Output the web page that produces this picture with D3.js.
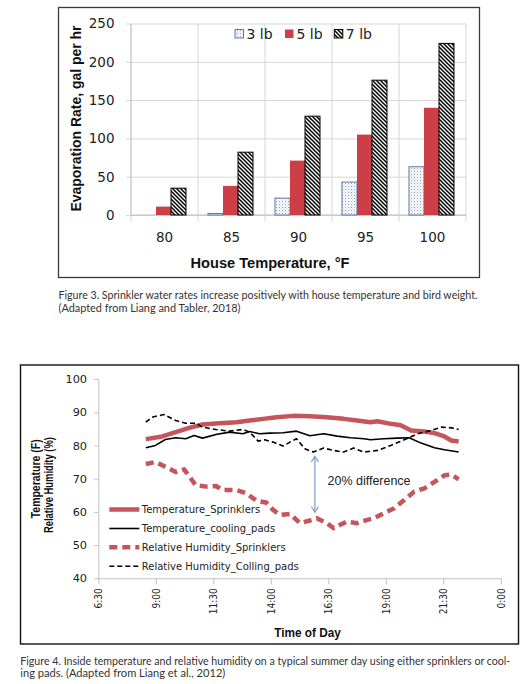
<!DOCTYPE html>
<html><head><meta charset="utf-8">
<script src="https://cdn.jsdelivr.net/npm/d3@7/dist/d3.min.js"></script>
<style>body{margin:0;background:#fff} svg{display:block}</style>
</head><body>
<svg id="c" width="529" height="684"></svg>
<script>
// ---------- Figure 3 data ----------
const categories = ["80","85","90","95","100"];
const seriesNames = ["3 lb","5 lb","7 lb"];
const values3lb = [0, 2, 22, 43, 63];
const values5lb = [11, 38, 71, 105, 140];
const values7lb = [35, 82, 129, 176, 224];
const yTicksTop = [0, 50, 100, 150, 200, 250];

// ---------- Figure 4 data ----------
const timeTicks = ["6:30","9:00","11:30","14:00","16:30","19:00","21:30","0:00"];
const yTicksBottom = [40, 50, 60, 70, 80, 90, 100];
const seriesLabels = ["Temperature_Sprinklers","Temperature_cooling_pads","Relative Humidity_Sprinklers","Relative Humidity_Colling_pads"];

const tempSprTime = ["8:34","9:17","9:52","10:27","11:02","11:46","12:30","13:05","13:40","14:15","14:59","15:42","16:26","17:10","17:45","18:20","18:38","19:13","19:39","20:06","20:41","21:07","21:33","21:51","22:10"];
const tempSprVal  = [81.9,82.7,84.0,85.3,86.3,86.7,87.0,87.5,88.0,88.5,88.9,88.8,88.5,88.0,87.5,87.0,87.3,86.5,86.1,84.5,84.2,83.7,82.7,81.5,81.2];

const tempPadTime = ["8:34","8:59","9:25","9:52","10:18","10:40","11:02","11:37","12:12","12:47","13:05","13:31","13:57","14:32","15:07","15:42","16:18","16:53","17:28","18:03","18:20","18:55","19:30","20:01","20:32","21:07","21:33","22:10"];
const tempPadVal  = [79.3,80.0,81.8,82.3,82.0,83.0,82.2,83.3,84.0,83.5,84.2,83.5,83.7,83.8,84.3,82.9,83.5,82.8,82.3,82.0,81.7,82.0,82.2,82.3,80.7,79.3,78.7,78.0];

const rhSprTime = ["8:34","8:59","9:25","9:52","10:14","10:44","11:11","11:37","11:54","12:30","12:56","13:22","13:48","14:06","14:24","14:50","15:16","15:42","16:00","16:26","16:44","17:19","17:45","18:12","18:29","18:55","19:22","19:48","20:14","20:41","21:07","21:33","21:51","22:10"];
const rhSprVal  = [74.4,75.0,73.6,72.0,72.8,68.0,67.6,67.8,66.6,66.6,65.6,63.4,62.8,60.6,59.1,59.4,56.6,57.4,58.1,56.6,55.1,57.1,56.6,57.6,58.1,59.6,61.1,63.6,66.1,67.1,69.0,71.0,71.2,69.8];

const rhPadTime = ["8:34","8:50","9:21","9:52","10:18","10:44","11:02","11:37","12:12","12:47","13:05","13:27","13:44","14:06","14:32","14:50","15:07","15:29","15:51","16:18","16:44","17:10","17:36","18:03","18:38","19:13","19:48","20:23","20:58","21:25","21:51","22:10"];
const rhPadVal  = [87.0,88.5,89.3,87.5,86.7,86.7,85.5,84.8,84.3,84.8,84.0,81.3,81.7,81.0,79.8,81.0,82.0,79.0,78.0,79.2,78.5,78.0,79.2,78.0,78.5,80.0,81.7,83.5,84.5,85.5,85.3,84.8];

const annotation = {time: "15:55", from: 76.7, to: 59.9, label: "20% difference", labelTime: "16:28", labelValue: 69.3};

const captions3 = ["Figure 3. Sprinkler water rates increase positively with house temperature and bird weight.", "(Adapted from Liang and Tabler, 2018)"];
const captions4 = ["Figure 4. Inside temperature and relative humidity on a typical summer day using either sprinklers or cool-", "ing pads. (Adapted from Liang et al., 2012)"];

// ---------- helpers ----------
function toMin(s){ const [h,m] = s.split(":").map(Number); return h*60+m; }
const svg = d3.select("#c");
const defs = svg.append("defs");

// patterns
const pDots = defs.append("pattern").attr("id","dots").attr("patternUnits","userSpaceOnUse").attr("width",3).attr("height",3);
pDots.append("rect").attr("width",3).attr("height",3).attr("fill","#fff");
pDots.append("rect").attr("x",0).attr("y",0).attr("width",1).attr("height",1).attr("fill","#8b9dbb");
pDots.append("rect").attr("x",1.5).attr("y",1.5).attr("width",1).attr("height",1).attr("fill","#a9b8cf");
const pStripe = defs.append("pattern").attr("id","stripes").attr("patternUnits","userSpaceOnUse").attr("width",4).attr("height",4);
pStripe.append("rect").attr("width",4).attr("height",4).attr("fill","#fff");
pStripe.append("path").attr("d","M-1,-1 L5,5 M-1,3 L1,5 M3,-1 L5,1").attr("stroke","#000").attr("stroke-width",1.5);

const fills = {"3 lb":"url(#dots)","5 lb":"#cd3f46","7 lb":"url(#stripes)"};
const strokes = {"3 lb":"#5a78aa","5 lb":"none","7 lb":"#000"};

// ================= FIGURE 3 =================
const g3 = svg.append("g");
g3.append("rect").attr("x",58.5).attr("y",7.5).attr("width",421).attr("height",270)
  .attr("fill","#fff").attr("stroke","#3a3a3a").attr("stroke-width",1.3);

const x0 = d3.scaleBand().domain(categories).range([131,466]);
const x1 = d3.scaleBand().domain(seriesNames).range([0,45]);
const yT = d3.scaleLinear().domain([0,250]).range([215,23.5]);

const yAx = g3.append("g").attr("transform","translate(466,0)")
  .call(d3.axisLeft(yT).tickValues(yTicksTop).tickSizeInner(340).tickSizeOuter(0).tickPadding(11.5));
yAx.select(".domain").remove();
yAx.selectAll("line").attr("stroke","#d6d6d6");
yAx.selectAll("text").attr("font-family","DejaVu Sans").attr("font-size",13.5).attr("fill","#222");

const bounds = categories.map(c=>x0(c)).concat([x0.range()[1]]);
g3.selectAll(".vg").data(bounds).join("line")
  .attr("x1",d=>d).attr("x2",d=>d).attr("y1",yT(250)).attr("y2",yT(0)+6.5)
  .attr("stroke","#d6d6d6");
g3.append("line").attr("x1",x0.range()[0]).attr("x2",x0.range()[0]).attr("y1",yT(250)).attr("y2",yT(0)).attr("stroke","#c4c4c4");
g3.append("line").attr("x1",x0.range()[0]).attr("x2",x0.range()[1]).attr("y1",yT(0)).attr("y2",yT(0)).attr("stroke","#bdbdbd");

const seriesVals = {"3 lb":values3lb,"5 lb":values5lb,"7 lb":values7lb};
const barData = [];
categories.forEach((c,i)=>seriesNames.forEach(s=>barData.push({c,s,v:seriesVals[s][i]})));
g3.selectAll(".bar").data(barData.filter(d=>d.v>0)).join("rect")
  .attr("x",d=>x0(d.c)+(x0.bandwidth()-45)/2 + x1(d.s) - 1)
  .attr("width",x1.bandwidth())
  .attr("y",d=>yT(d.v)).attr("height",d=>yT(0)-yT(d.v))
  .attr("fill",d=>fills[d.s]).attr("stroke",d=>strokes[d.s]).attr("stroke-width",1);

const xAx = g3.append("g").attr("transform",`translate(0,${yT(0)})`)
  .call(d3.axisBottom(x0).tickSize(0).tickPadding(17.4));
xAx.select(".domain").remove();
xAx.selectAll("text").attr("font-family","DejaVu Sans").attr("font-size",13.5).attr("fill","#222");

const legX = {"3 lb":235,"5 lb":285,"7 lb":334.3};
seriesNames.forEach(s=>{
  g3.append("rect").attr("x",legX[s]).attr("y",29.5).attr("width",8.5).attr("height",8.5)
    .attr("fill",fills[s]).attr("stroke",strokes[s]).attr("stroke-width",1);
  g3.append("text").attr("x",legX[s]+11.5).attr("y",39).text(s)
    .attr("font-family","DejaVu Sans").attr("font-size",14).attr("fill","#222");
});

g3.append("text").attr("transform","translate(80.5,118.5) rotate(-90)").attr("text-anchor","middle")
  .attr("font-family","Liberation Sans, Arial").attr("font-weight","bold").attr("font-size",14)
  .attr("textLength",186).attr("lengthAdjust","spacingAndGlyphs").attr("fill","#111")
  .text("Evaporation Rate, gal per hr");
g3.append("text").attr("x",270).attr("y",268).attr("text-anchor","middle")
  .attr("font-family","Liberation Sans, Arial").attr("font-weight","bold").attr("font-size",14.5)
  .attr("textLength",159).attr("lengthAdjust","spacingAndGlyphs").attr("fill","#111")
  .text("House Temperature, °F");

const capLen3 = [419,182];
captions3.forEach((t,i)=>svg.append("text").attr("x",58.5).attr("y",299+i*13.3).text(t)
  .attr("font-family","Lato, Noto Sans").attr("font-size",10.5).attr("fill","#333")
  .attr("textLength",capLen3[i]).attr("lengthAdjust","spacingAndGlyphs"));

// ================= FIGURE 4 =================
const g4 = svg.append("g");
g4.append("rect").attr("x",20.5).attr("y",365).attr("width",498).attr("height",279)
  .attr("fill","#fff").attr("stroke","#111").attr("stroke-width",1.4);

const tMin = toMin(timeTicks[0]), tMax = 24*60;
const xB = d3.scaleLinear().domain([tMin,tMax]).range([98.3,500.8]);
const yB = d3.scaleLinear().domain([40,100]).range([578.3,379]);
const tickMins = timeTicks.map(s=>{ const m = toMin(s); return m===0?1440:m; });

const yAxB = g4.append("g").attr("transform",`translate(${xB(tMin)},0)`)
  .call(d3.axisLeft(yB).tickValues(yTicksBottom).tickSize(4).tickSizeOuter(0).tickPadding(7.3));
yAxB.select(".domain").attr("stroke","#c0c0c0");
yAxB.selectAll("line").attr("stroke","#c0c0c0");
yAxB.selectAll("text").attr("font-family","DejaVu Sans").attr("font-size",11.3).attr("fill","#222");

const xAxB = g4.append("g").attr("transform",`translate(0,${yB(40)})`)
  .call(d3.axisBottom(xB).tickValues(tickMins).tickFormat((d,i)=>timeTicks[i]).tickSize(6).tickSizeOuter(0));
xAxB.select(".domain").attr("stroke","#c0c0c0");
xAxB.selectAll("line").attr("stroke","#c0c0c0");
xAxB.selectAll("text").attr("transform","rotate(-90)").attr("text-anchor","end")
  .attr("x",-10).attr("y",0).attr("dy","0.36em")
  .attr("font-family","DejaVu Sans Condensed, DejaVu Sans").attr("font-size",10).attr("fill","#222");

const mk = (ts,vs)=>ts.map((t,i)=>({t:toMin(t), v:vs[i]}));
const line = d3.line().x(d=>xB(d.t)).y(d=>yB(d.v));
const RED = "#c4555a";
const styles = [
  {data: mk(tempSprTime,tempSprVal), stroke: RED, w: 4.5, dash: null},
  {data: mk(tempPadTime,tempPadVal), stroke: "#000", w: 1.6, dash: null},
  {data: mk(rhSprTime,rhSprVal), stroke: RED, w: 4.5, dash: "8,5"},
  {data: mk(rhPadTime,rhPadVal), stroke: "#000", w: 1.6, dash: "5,3"}
];
[2,0,3,1].forEach(i=>{
  const s = styles[i];
  g4.append("path").datum(s.data).attr("d",line).attr("fill","none")
    .attr("stroke",s.stroke).attr("stroke-width",s.w).attr("stroke-dasharray",s.dash)
    .attr("stroke-linejoin","round");
});

const ax = xB(toMin(annotation.time)), ay1 = yB(annotation.from), ay2 = yB(annotation.to);
const AC = "#7c9cc8";
g4.append("line").attr("x1",ax).attr("x2",ax).attr("y1",ay1).attr("y2",ay2).attr("stroke",AC).attr("stroke-width",1.2);
g4.append("path").attr("d",`M${ax-3.5},${ay1+5.5} L${ax},${ay1} L${ax+3.5},${ay1+5.5} M${ax-3.5},${ay2-5.5} L${ax},${ay2} L${ax+3.5},${ay2-5.5}`)
  .attr("fill","none").attr("stroke",AC).attr("stroke-width",1.2);
g4.append("text").attr("x",xB(toMin(annotation.labelTime))).attr("y",yB(annotation.labelValue)+4.3)
  .attr("font-family","Liberation Sans, Arial").attr("font-size",12.4).attr("fill","#222")
  .attr("textLength",83).attr("lengthAdjust","spacingAndGlyphs").text(annotation.label);

const legRows = [509.5, 528.5, 547.3, 566.3];
seriesLabels.forEach((lab,i)=>{
  const s = styles[i];
  g4.append("line").attr("x1",109.3).attr("x2",139.3).attr("y1",legRows[i]).attr("y2",legRows[i])
    .attr("stroke",s.stroke).attr("stroke-width",s.w).attr("stroke-dasharray",s.dash);
  g4.append("text").attr("x",141.8).attr("y",legRows[i]+3.6).text(lab)
    .attr("font-family","DejaVu Sans").attr("font-size",10).attr("fill","#222");
});

g4.append("text").attr("transform","translate(39.5,478.8) rotate(-90)").attr("text-anchor","middle")
  .attr("font-family","Liberation Sans Narrow, Liberation Sans, Arial").attr("font-weight","bold").attr("font-size",12.5).attr("fill","#111")
  .attr("textLength",79).attr("lengthAdjust","spacingAndGlyphs").text("Temperature (F)");
g4.append("text").attr("transform","translate(53.3,485.1) rotate(-90)").attr("text-anchor","middle")
  .attr("font-family","Liberation Sans Narrow, Liberation Sans, Arial").attr("font-weight","bold").attr("font-size",12.5).attr("fill","#111")
  .attr("textLength",96).attr("lengthAdjust","spacingAndGlyphs").text("Relative Humidity (%)");
g4.append("text").attr("x",307.5).attr("y",637).attr("text-anchor","middle")
  .attr("font-family","Liberation Sans, Arial").attr("font-weight","bold").attr("font-size",12)
  .attr("textLength",66.6).attr("lengthAdjust","spacingAndGlyphs").attr("fill","#111").text("Time of Day");

const capLen4 = [490,205];
captions4.forEach((t,i)=>svg.append("text").attr("x",20.3).attr("y",664.5+i*12.8).text(t)
  .attr("font-family","Lato, Noto Sans").attr("font-size",10.5).attr("fill","#333")
  .attr("textLength",capLen4[i]).attr("lengthAdjust","spacingAndGlyphs"));
</script>
</body></html>
